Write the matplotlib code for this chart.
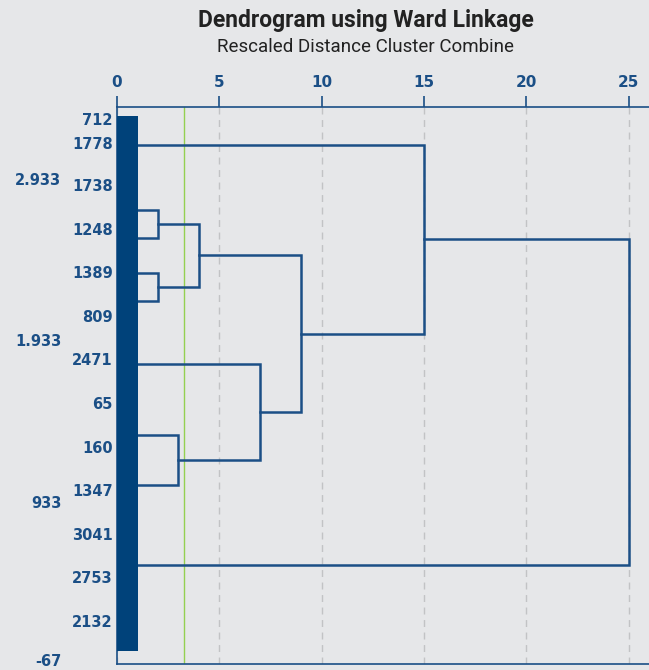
import matplotlib.pyplot as plt
from matplotlib.transforms import ScaledTranslation

# leaf labels (inner column) and where they sit on the value scale
leaf_labels = ['712', '1778', '1738', '1248', '1389', '809', '2471', '65',
               '160', '1347', '3041', '2753', '2132']
leaf_pos = [3306, 3157, 2897, 2624, 2357, 2084, 1818, 1545, 1272, 1006, 733, 466, 193]

# outer value column
value_ticks = [-67, 933, 1933, 2933]
value_labels = ['-67', '933', '1.933', '2.933']

# rescaled distance axis (top)
dist_ticks = [0, 5, 10, 15, 20, 25]

# joined items, y on the value scale
item_y = [3145, 2742, 2568, 2351, 2177, 1787, 1347, 1037, 541]
# merges: (id a, id b, rescaled distance); new ids follow the items
merges = [(1, 2, 2.0), (3, 4, 2.0), (9, 10, 4.0), (6, 7, 3.0), (5, 12, 7.0),
          (11, 13, 9.0), (0, 14, 15.0), (15, 8, 25.0)]

cut_level = 3.27
bar_width = 1.05
bar_span = (7, 3324)

bg = '#e6e7e9'
blue = '#1b4f86'
dark = '#00427a'

fig = plt.figure(figsize=(6.49, 6.70), dpi=100, facecolor=bg)
ax = fig.add_axes([117 / 649, 6 / 670, 532 / 649, 557 / 670])
ax.set_facecolor(bg)

# dendrogram
ys = list(item_y)
hs = [0.0] * len(item_y)
for a, b, d in merges:
    ax.plot([hs[a], d, d, hs[b]], [ys[a], ys[a], ys[b], ys[b]],
            color=blue, lw=1.8, zorder=2, solid_joinstyle='miter')
    ys.append((ys[a] + ys[b]) / 2)
    hs.append(d)

ax.barh((bar_span[0] + bar_span[1]) / 2, bar_width, height=bar_span[1] - bar_span[0],
        left=0, color=dark, zorder=3)
ax.axvline(cut_level, color='#94d050', lw=1, zorder=1)

ax.set_xlim(0, 26)
ax.set_ylim(-73, 3380)

ax.xaxis.tick_top()
ax.set_xticks(dist_ticks, [str(t) for t in dist_ticks])
ax.xaxis.grid(True, linestyle=(0, (5, 4)), color='#c2c3c5', lw=1, zorder=0)
ax.set_axisbelow(True)
ax.tick_params(axis='x', length=8, width=1.2, color=blue, labelcolor=blue, pad=4,
               labelsize=11)
for lab in ax.get_xticklabels():
    lab.set_fontweight('bold')

ax.set_yticks(value_ticks, value_labels)
ax.set_yticks(leaf_pos, leaf_labels, minor=True)
ax.tick_params(axis='y', which='major', length=0, pad=40, labelcolor=blue, labelsize=10.5)
ax.tick_params(axis='y', which='minor', length=0, pad=3, labelcolor=blue, labelsize=10.5)
for lab in ax.get_yticklabels(which='both'):
    lab.set_fontweight('bold')

# lift the bottom label a touch so it stays inside the canvas
low = ax.yaxis.get_major_ticks()[0].label1
low.set_transform(low.get_transform() + ScaledTranslation(0, 2.5 / 72, fig.dpi_scale_trans))

for side in ['left', 'top', 'bottom']:
    ax.spines[side].set_color(blue)
    ax.spines[side].set_linewidth(1.2)
ax.spines['right'].set_visible(False)

fig.text(366 / 649, 1 - 20 / 670, 'Dendrogram using Ward Linkage', ha='center', va='center',
         fontsize=16.5, fontweight='bold', family='Roboto', color='#222222')
fig.text(366 / 649, 1 - 47 / 670, 'Rescaled Distance Cluster Combine', ha='center', va='center',
         fontsize=13.5, family='Roboto', color='#222222')

fig.savefig('out.png', dpi=100, facecolor=bg)
